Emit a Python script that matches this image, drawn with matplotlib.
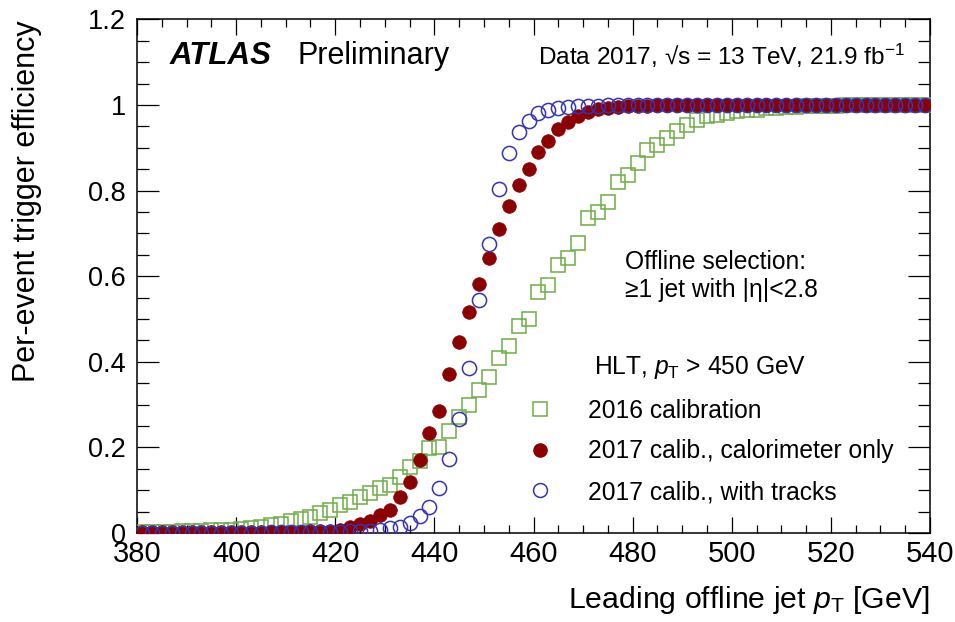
"""
Per-event trigger efficiency vs leading offline jet pT (ATLAS style).
"""

import numpy as np
import matplotlib
matplotlib.use("Agg")
import matplotlib.pyplot as plt
from matplotlib.lines import Line2D
from matplotlib.ticker import MultipleLocator

plt.rcParams['font.family'] = ['Liberation Sans', 'DejaVu Sans']
plt.rcParams['mathtext.fontset'] = 'custom'
plt.rcParams['mathtext.rm'] = 'Liberation Sans'
plt.rcParams['mathtext.it'] = 'Liberation Sans:italic'
plt.rcParams['mathtext.bf'] = 'Liberation Sans:bold'

# bin centres [GeV], 2 GeV bins from 380 to 540
pt_bins = np.arange(381, 541, 2)

eff_2016 = [
    0.002, 0.002, 0.003, 0.003, 0.004, 0.004, 0.005, 0.006, 0.007, 0.008,
    0.010, 0.012, 0.015, 0.018, 0.021, 0.027, 0.032, 0.038, 0.046, 0.054,
    0.065, 0.073, 0.085, 0.094, 0.104, 0.112, 0.130, 0.155, 0.168, 0.199,
    0.202, 0.238, 0.270, 0.299, 0.335, 0.365, 0.410, 0.437, 0.484, 0.499,
    0.564, 0.580, 0.626, 0.642, 0.677, 0.735, 0.751, 0.774, 0.821, 0.836,
    0.864, 0.895, 0.907, 0.922, 0.939, 0.953, 0.965, 0.975, 0.977, 0.981,
    0.985, 0.988, 0.988, 0.992, 0.994, 0.995, 0.996, 0.997, 0.997, 0.998,
    0.998, 0.999, 0.999, 0.999, 0.999, 1.000, 1.000, 1.000, 1.000, 1.000,
]

eff_2017_calo = [
    0.002, 0.002, 0.002, 0.002, 0.002, 0.002, 0.002, 0.002, 0.002, 0.002,
    0.002, 0.002, 0.002, 0.002, 0.003, 0.003, 0.003, 0.004, 0.004, 0.005,
    0.008, 0.013, 0.021, 0.029, 0.042, 0.054, 0.085, 0.120, 0.171, 0.233,
    0.284, 0.371, 0.447, 0.517, 0.581, 0.643, 0.710, 0.763, 0.812, 0.851,
    0.891, 0.917, 0.943, 0.961, 0.975, 0.984, 0.990, 0.994, 0.996, 0.997,
    0.998, 0.998, 0.999, 0.999, 0.999, 0.999, 0.999, 1.000, 1.000, 1.000,
    1.000, 1.000, 1.000, 1.000, 1.000, 1.000, 1.000, 1.000, 1.000, 1.000,
    1.000, 1.000, 1.000, 1.000, 1.000, 1.000, 1.000, 1.000, 1.000, 1.000,
]

eff_2017_trk = [
    0.001, 0.001, 0.001, 0.001, 0.001, 0.001, 0.001, 0.001, 0.001, 0.001,
    0.001, 0.001, 0.001, 0.002, 0.002, 0.002, 0.002, 0.003, 0.003, 0.003,
    0.003, 0.004, 0.004, 0.005, 0.008, 0.012, 0.015, 0.024, 0.040, 0.061,
    0.105, 0.172, 0.267, 0.386, 0.544, 0.675, 0.804, 0.887, 0.936, 0.963,
    0.981, 0.988, 0.993, 0.996, 0.997, 0.998, 0.998, 0.999, 0.999, 0.999,
    1.000, 1.000, 1.000, 1.000, 1.000, 1.000, 1.000, 1.000, 1.000, 1.000,
    1.000, 1.000, 1.000, 1.000, 1.000, 1.000, 1.000, 1.000, 1.000, 1.000,
    1.000, 1.000, 1.000, 1.000, 1.000, 1.000, 1.000, 1.000, 1.000, 1.000,
]

labels = ['2016 calibration', '2017 calib., calorimeter only', '2017 calib., with tracks']
c_green = '#6cae45'
c_red = '#8b0000'
c_blue = '#3434b4'

fig = plt.figure(figsize=(9.55, 6.22), dpi=100)
ax = fig.add_axes([137 / 955, 89 / 622, 793 / 955, 513.6 / 622])

ax.plot(pt_bins, eff_2016, 's', ms=10.3, mfc='none', mec=c_green, mew=1.1, zorder=3)
ax.plot(pt_bins, eff_2017_calo, 'o', ms=9.8, mfc=c_red, mec=c_red, mew=0.5, zorder=4)
ax.plot(pt_bins, eff_2017_trk, 'o', ms=10.2, mfc='none', mec=c_blue, mew=1.1, zorder=5)

ax.set_xlim(380, 540)
ax.set_ylim(0, 1.2)
ax.xaxis.set_major_locator(MultipleLocator(20))
ax.xaxis.set_minor_locator(MultipleLocator(5))
ax.yaxis.set_minor_locator(MultipleLocator(0.05))
ax.set_yticks([0, 0.2, 0.4, 0.6, 0.8, 1.0, 1.2])
ax.set_yticklabels(['0', '0.2', '0.4', '0.6', '0.8', '1', '1.2'])

ax.tick_params(which='both', direction='in', top=True, right=True, width=0.9)
ax.tick_params(axis='x', which='major', length=11.5, labelsize=21, pad=5)
ax.tick_params(axis='x', which='minor', length=5.8)
ax.tick_params(axis='y', which='major', length=15.8, labelsize=19.5, pad=8)
ax.tick_params(axis='y', which='minor', length=8.6)
for sp in ax.spines.values():
    sp.set_linewidth(1.1)

fig.text(27 / 955, 1 - 20 / 622, 'Per-event trigger efficiency', rotation=90,
         ha='center', va='top', fontsize=22)
fig.text(930 / 955, 1 - 600 / 622, r'Leading offline jet $p_{\mathrm{T}}$ [GeV]',
         ha='right', va='center', fontsize=21.8)

# labels on the canvas
ax.text(0.0416, 0.929, 'ATLAS', transform=ax.transAxes, fontsize=22.5,
        fontweight='bold', fontstyle='italic', ha='left', va='center')
ax.text(0.2018, 0.929, 'Preliminary', transform=ax.transAxes, fontsize=22,
        ha='left', va='center')
ax.text(0.9685, 0.929, 'Data 2017, \u221as = 13 TeV, 21.9 fb$^{-1}$',
        transform=ax.transAxes, fontsize=17.6, ha='right', va='center')
ax.text(0.615, 0.528, 'Offline selection:', transform=ax.transAxes,
        fontsize=17.7, ha='left', va='center')
ax.text(0.615, 0.473, '\u22651 jet with |\u03b7|<2.8', transform=ax.transAxes,
        fontsize=17.7, ha='left', va='center')
ax.text(0.576, 0.323, r'HLT, $p_{\mathrm{T}}$ > 450 GeV', transform=ax.transAxes,
        fontsize=17.7, ha='left', va='center')

handles = [
    Line2D([], [], ls='none', marker='s', ms=10, mfc='none', mec=c_green, mew=1.1),
    Line2D([], [], ls='none', marker='o', ms=9.5, mfc=c_red, mec=c_red),
    Line2D([], [], ls='none', marker='o', ms=10, mfc='none', mec=c_blue, mew=1.1),
]
ax.legend(handles, labels, loc='upper left', bbox_to_anchor=(0.4927, 0.2617),
          frameon=False, fontsize=17.7, borderpad=0, borderaxespad=0,
          handlelength=1.0, handletextpad=1.45, labelspacing=0.68)

plt.savefig('out.png', dpi=100)
plt.close()
